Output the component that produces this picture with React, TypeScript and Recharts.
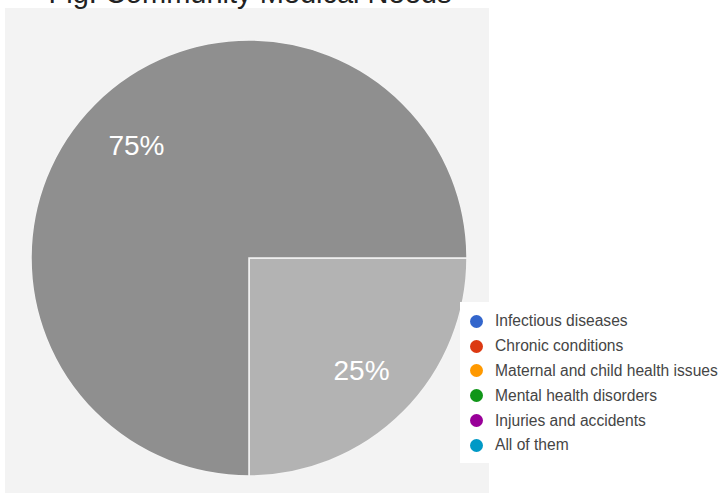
import React from 'react';
import { PieChart, Pie, Cell, Legend } from 'recharts';

// Slices (the figure only shows two, both greyed out)
const sliceNames = ['Share 25', 'Share 75'];
const sliceValues = [25, 75];
const sliceColors = ['#b3b3b3', '#8f8f8f'];

// Legend entries
const categories = [
  'Infectious diseases',
  'Chronic conditions',
  'Maternal and child health issues',
  'Mental health disorders',
  'Injuries and accidents',
  'All of them',
];
const categoryColors = ['#3366cc', '#dc3912', '#ff9900', '#109618', '#990099', '#0099c6'];

const TITLE = 'Fig. Community Medical Needs';
const FONT = '"Liberation Sans", Arial, Helvetica, sans-serif';
const RAD = Math.PI / 180;

const data = sliceNames.map((name, i) => ({ name, value: sliceValues[i] }));

const renderLabel = (props: any) => {
  const { cx, cy, midAngle, outerRadius, percent } = props;
  const r = outerRadius * 0.73;
  const x = cx + r * Math.cos(-midAngle * RAD);
  const y = cy + r * Math.sin(-midAngle * RAD);
  return (
    <text
      x={x}
      y={y}
      fill="#ffffff"
      textAnchor="middle"
      dominantBaseline="central"
      fontSize={28}
      fontFamily={FONT}
    >
      {`${Math.round(percent * 100)}%`}
    </text>
  );
};

const renderLegend = () => (
  <div style={{ background: '#ffffff', width: '100%', height: '100%', paddingTop: 7, boxSizing: 'border-box' }}>
    {categories.map((c, i) => (
      <div
        key={c}
        style={{ display: 'flex', alignItems: 'center', height: 24.8, fontFamily: FONT, fontSize: 15.6, color: '#454545' }}
      >
        <span
          style={{
            display: 'inline-block',
            width: 13,
            height: 13,
            borderRadius: '50%',
            background: categoryColors[i],
            marginLeft: 10,
            marginRight: 12,
          }}
        />
        <span style={{ whiteSpace: 'nowrap' }}>{c}</span>
      </div>
    ))}
  </div>
);

const App: React.FC = () => {
  return (
    <div style={{ position: 'absolute', left: 0, top: 0, width: 722, height: 493, background: '#ffffff', overflow: 'hidden' }}>
      {/* grey chart area */}
      <div style={{ position: 'absolute', left: 5, top: 8, width: 484, height: 485, background: '#f3f3f3' }} />
      <div style={{ position: 'absolute', left: 0, top: 0 }}>
        <PieChart width={722} height={493} margin={{ top: 0, right: 0, bottom: 0, left: 0 }}>
          <Pie
            data={data}
            dataKey="value"
            nameKey="name"
            cx={249}
            cy={258}
            outerRadius={218}
            startAngle={0}
            endAngle={-360}
            stroke="#f4f4f4"
            strokeWidth={1.5}
            label={renderLabel}
            labelLine={false}
            isAnimationActive={false}
          >
            {data.map((d, i) => (
              <Cell key={d.name} fill={sliceColors[i]} />
            ))}
          </Pie>
          <Legend
            content={renderLegend}
            wrapperStyle={{ left: 460, top: 302, width: 262, height: 161 }}
          />
        </PieChart>
      </div>
      {/* title, cut off at the top of the picture as in the figure */}
      <svg width={722} height={20} style={{ position: 'absolute', left: 0, top: 0 }}>
        <text x={250} y={3} textAnchor="middle" fontSize={29} fontFamily={FONT} fill="#222">
          {TITLE}
        </text>
      </svg>
    </div>
  );
};

export default App;
